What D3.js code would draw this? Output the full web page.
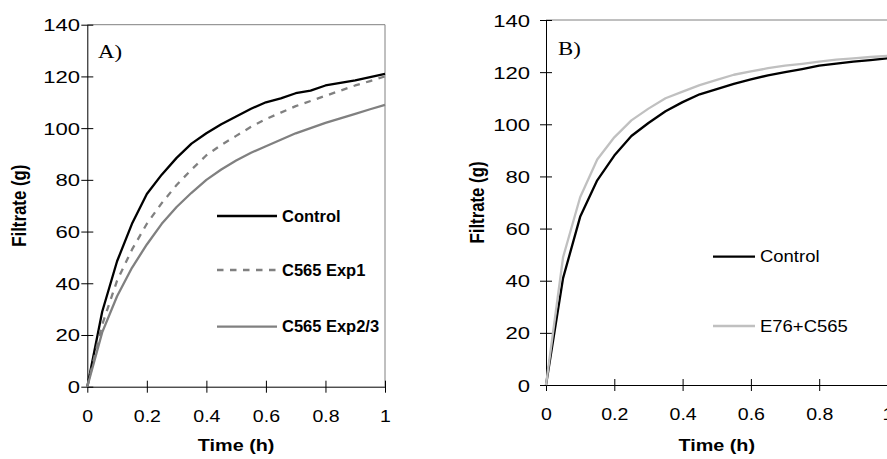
<!DOCTYPE html>
<html>
<head>
<meta charset="utf-8">
<script src="https://cdn.jsdelivr.net/npm/d3@7"></script>
<style>
  html, body { margin: 0; padding: 0; background: #fff; overflow: hidden; }
  svg { display: block; }
  text { font-family: "Liberation Sans", Arial, sans-serif; fill: #000; }
</style>
</head>
<body>
<svg id="chart" width="887" height="459"></svg>
<script>
// Filtration time (h), sampled every 0.05 h
const time = [0, 0.05, 0.1, 0.15, 0.2, 0.25, 0.3, 0.35, 0.4, 0.45, 0.5,
              0.55, 0.6, 0.65, 0.7, 0.75, 0.8, 0.85, 0.9, 0.95, 1];

// Panel A: cumulative filtrate (g)
const controlA = [0, 29, 48.5, 63, 74.5, 82, 88.5, 94, 98, 101.5, 104.5,
                  107.5, 110, 111.5, 113.5, 114.5, 116.5, 117.5, 118.5, 119.7, 121];
const c565Exp1 = [0, 24, 41, 53, 63, 71, 78, 84, 89.5, 93.5, 97,
                  100.5, 103.5, 106, 108.5, 110.5, 112.5, 114.5, 116.5, 118.2, 120];
const c565Exp23 = [0, 21, 35, 46, 55, 63, 69.5, 75, 80, 84, 87.5,
                   90.5, 93, 95.5, 98, 100, 102, 103.8, 105.5, 107.3, 109];

// Panel B: cumulative filtrate (g)
const controlB = [0, 41, 64.5, 78.5, 88, 95.5, 100.5, 105, 108.5, 111.5, 113.5,
                  115.5, 117.2, 118.8, 120, 121.2, 122.5, 123.3, 124, 124.6, 125.3];
const e76C565 = [0, 49, 72, 86.5, 95, 101.5, 106, 110, 112.5, 115, 117,
                 119, 120.3, 121.5, 122.5, 123.2, 124, 124.8, 125.3, 125.8, 126.2];

const xTicks = [0, 0.2, 0.4, 0.6, 0.8, 1];
const yTicks = [0, 20, 40, 60, 80, 100, 120, 140];

const xLabel = "Time (h)";
const yLabel = "Filtrate (g)";

const panels = [
  {
    tag: "A)",
    x0: 87.3, x1: 385, y0: 386.7, y1: 24.7,
    yLabelX: 20.7, yTickPad: 7.3, xTickBase: 421.7, xTitleBase: 451,
    tagPos: [98, 58],
    legendBold: true, legendSX: 1.03, legendFS: 16,
    series: [
      { name: "Control", values: controlA, color: "#000", dash: null, ly: 216, lx0: 217, lx1: 277 },
      { name: "C565 Exp1", values: c565Exp1, color: "#808080", dash: "6.5,6.5", ly: 270, lx0: 217, lx1: 277 },
      { name: "C565 Exp2/3", values: c565Exp23, color: "#808080", dash: null, ly: 326.7, lx0: 217, lx1: 277 }
    ]
  },
  {
    tag: "B)",
    x0: 546, x1: 887.5, y0: 385, y1: 20,
    yLabelX: 478, yTickPad: 16, xTickBase: 420, xTitleBase: 451,
    tagPos: [558, 55],
    legendBold: false, legendSX: 1.12, legendFS: 16.5,
    series: [
      { name: "Control", values: controlB, color: "#000", dash: null, ly: 256.7, lx0: 713, lx1: 755 },
      { name: "E76+C565", values: e76C565, color: "#c0c0c0", dash: null, ly: 326, lx0: 713, lx1: 755 }
    ]
  }
];

const FS = 17;          // tick label font size
const SX_Y = 1.3;       // horizontal glyph stretch, y tick labels
const SX_X = 1.15;      // horizontal glyph stretch, x tick labels
const SX_T = 1.2;       // horizontal glyph stretch, titles

const svg = d3.select("#chart");

panels.forEach(p => {
  const x = d3.scaleLinear().domain([0, 1]).range([p.x0, p.x1]);
  const y = d3.scaleLinear().domain([0, 140]).range([p.y0, p.y1]);
  const g = svg.append("g");

  // grey frame along top and right of plot area
  g.append("line").attr("x1", p.x0).attr("x2", p.x1).attr("y1", p.y1).attr("y2", p.y1)
    .attr("stroke", "#808080").attr("stroke-width", 1);
  g.append("line").attr("x1", p.x1).attr("x2", p.x1).attr("y1", p.y1).attr("y2", p.y0)
    .attr("stroke", "#808080").attr("stroke-width", 1);

  // y axis with ticks crossing the axis line
  const ya = g.append("g").attr("transform", `translate(${p.x0},0)`)
    .call(d3.axisLeft(y).tickValues(yTicks).tickSizeOuter(0).tickSizeInner(6).tickFormat(d3.format("d")));
  ya.select(".domain").attr("stroke", "#000");
  ya.selectAll(".tick line").attr("x1", 6).attr("x2", -6).attr("stroke", "#000");
  ya.selectAll(".tick text")
    .attr("x", null).attr("dy", null)
    .attr("transform", `translate(${-p.yTickPad},6) scale(${SX_Y},1)`)
    .style("font-family", "Liberation Sans, Arial, sans-serif")
    .style("font-size", FS + "px").attr("fill", "#000");

  // x axis with ticks crossing the axis line
  const xa = g.append("g").attr("transform", `translate(0,${p.y0})`)
    .call(d3.axisBottom(x).tickValues(xTicks).tickSizeOuter(0).tickSizeInner(6).tickFormat(d => d3.format("")(d)));
  xa.select(".domain").attr("stroke", "#000");
  xa.selectAll(".tick line").attr("y1", -6).attr("y2", 6).attr("stroke", "#000");
  xa.selectAll(".tick text")
    .attr("y", null).attr("dy", null)
    .attr("transform", `translate(0,${p.xTickBase - p.y0}) scale(${SX_X},1)`)
    .style("font-family", "Liberation Sans, Arial, sans-serif")
    .style("font-size", FS + "px").attr("fill", "#000");

  // axis titles
  g.append("text")
    .attr("transform", `translate(${(p.x0 + p.x1) / 2},${p.xTitleBase}) scale(${SX_T},1)`)
    .attr("text-anchor", "middle").style("font-size", "16.5px").style("font-weight", "bold")
    .text(xLabel);
  g.append("text")
    .attr("transform", `translate(${p.yLabelX + 5.5},${(p.y0 + p.y1) / 2}) scale(${SX_T},1) rotate(-90)`)
    .attr("text-anchor", "middle").style("font-size", "16.8px").style("font-weight", "bold")
    .text(yLabel);

  // panel tag
  g.append("text")
    .attr("transform", `translate(${p.tagPos[0]},${p.tagPos[1]}) scale(${SX_T},1)`)
    .style("font-family", "Liberation Serif, 'Times New Roman', serif").style("font-size", "19px")
    .text(p.tag);

  // curves
  const line = d3.line().x((d, i) => x(time[i])).y(d => y(d));
  p.series.forEach(s => {
    g.append("path").datum(s.values)
      .attr("d", line).attr("fill", "none")
      .attr("stroke", s.color).attr("stroke-width", 2.3)
      .attr("stroke-linejoin", "round")
      .attr("stroke-dasharray", s.dash);

    // legend entry
    g.append("line").attr("x1", s.lx0).attr("x2", s.lx1).attr("y1", s.ly).attr("y2", s.ly)
      .attr("stroke", s.color).attr("stroke-width", 2.3).attr("stroke-dasharray", s.dash);
    g.append("text")
      .attr("transform", `translate(${s.lx1 + 5},${s.ly + 5.7}) scale(${p.legendSX},1)`)
      .style("font-size", p.legendFS + "px").style("font-weight", p.legendBold ? "bold" : "normal")
      .text(s.name);
  });
});
</script>
</body>
</html>
